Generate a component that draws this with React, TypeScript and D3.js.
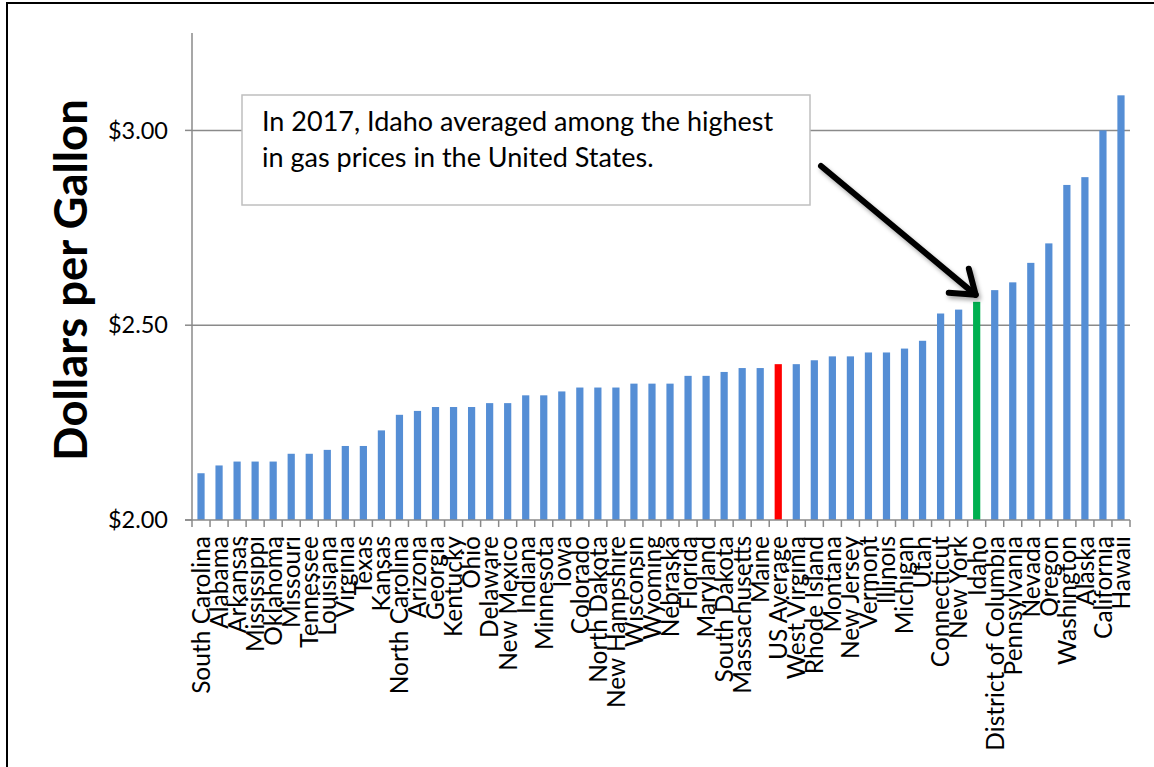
import React from "react";
import * as d3 from "d3";

const states: string[] = [
  "South Carolina", "Alabama", "Arkansas", "Mississippi", "Oklahoma", "Missouri",
  "Tennessee", "Louisiana", "Virginia", "Texas", "Kansas", "North Carolina",
  "Arizona", "Georgia", "Kentucky", "Ohio", "Delaware", "New Mexico", "Indiana",
  "Minnesota", "Iowa", "Colorado", "North Dakota", "New Hampshire", "Wisconsin",
  "Wyoming", "Nebraska", "Florida", "Maryland", "South Dakota", "Massachusetts",
  "Maine", "US Average", "West Virginia", "Rhode Island", "Montana", "New Jersey",
  "Vermont", "Illinois", "Michigan", "Utah", "Connecticut", "New York", "Idaho",
  "District of Columbia", "Pennsylvania", "Nevada", "Oregon", "Washington",
  "Alaska", "California", "Hawaii",
];

const prices: number[] = [
  2.12, 2.14, 2.15, 2.15, 2.15, 2.17, 2.17, 2.18, 2.19, 2.19, 2.23, 2.27,
  2.28, 2.29, 2.29, 2.29, 2.30, 2.30, 2.32, 2.32, 2.33, 2.34, 2.34, 2.34, 2.35,
  2.35, 2.35, 2.37, 2.37, 2.38, 2.39, 2.39, 2.40, 2.40, 2.41, 2.42, 2.42, 2.43,
  2.43, 2.44, 2.46, 2.53, 2.54, 2.56, 2.59, 2.61, 2.66, 2.71, 2.86, 2.88, 3.00, 3.09,
];

const yTicks: number[] = [2.0, 2.5, 3.0];
const yDomain: [number, number] = [2.0, 3.25];
const highlight: Record<string, string> = { "US Average": "#FF0000", Idaho: "#00B050" };
const annotationLines: string[] = [
  "In 2017, Idaho averaged among the highest",
  "in gas prices in the United States.",
];
const yTitle = "Dollars per Gallon";
const arrowTarget = "Idaho";

const W = 1154;
const H = 767;
const plotLeft = 192;
const plotRight = 1130;
const plotTop = 33;
const plotBottom = 520;
const font = "Lato, 'Open Sans', sans-serif";

export default function App() {
  const x = d3
    .scaleBand<string>()
    .domain(states)
    .range([plotLeft, plotRight])
    .paddingInner(0.6)
    .paddingOuter(0.3);
  const y = d3.scaleLinear().domain(yDomain).range([plotBottom, plotTop]);
  const step = x.step();
  const bw = x.bandwidth();
  const fmt = d3.format("$.2f");

  const boundaries = d3.range(states.length + 1).map((k) => plotLeft + k * step);

  const idx = states.indexOf(arrowTarget);
  const tipX = (x(arrowTarget) as number) + bw / 2 - 1;
  const tipY = y(prices[idx]) - 7;
  const startX = 821;
  const startY = 166;
  const ang = Math.atan2(tipY - startY, tipX - startX);
  const barb = 27;
  const b1 = [tipX - barb * Math.cos(ang - 0.62), tipY - barb * Math.sin(ang - 0.62)];
  const b2 = [tipX - barb * Math.cos(ang + 0.62), tipY - barb * Math.sin(ang + 0.62)];

  return (
    <div style={{ position: "fixed", left: 0, top: 0 }}>
      <svg width={W} height={H} style={{ display: "block", background: "#fff" }}>
        <defs>
          <filter id="shadow" x="-20%" y="-20%" width="140%" height="140%">
            <feDropShadow dx="2" dy="3" stdDeviation="2" floodColor="#000" floodOpacity="0.35" />
          </filter>
        </defs>
        {/* outer frame */}
        <line x1={6} x2={W} y1={3} y2={3} stroke="#000" strokeWidth={2} />
        <line x1={7} x2={7} y1={2} y2={H} stroke="#000" strokeWidth={2} />

        {/* gridlines */}
        {yTicks.filter((t) => t > yDomain[0]).map((t) => (
          <line key={"g" + t} x1={plotLeft} x2={plotRight} y1={y(t)} y2={y(t)} stroke="#8a8a8a" strokeWidth={1.5} />
        ))}

        {/* bars */}
        {states.map((s, i) => (
          <rect
            key={s}
            x={x(s)}
            y={y(prices[i])}
            width={bw}
            height={plotBottom - y(prices[i])}
            fill={highlight[s] || "#558ED5"}
          />
        ))}

        {/* y axis */}
        <line x1={plotLeft} x2={plotLeft} y1={plotTop} y2={plotBottom} stroke="#8a8a8a" strokeWidth={1.5} />
        {yTicks.map((t) => (
          <g key={"t" + t}>
            <line x1={plotLeft - 7} x2={plotLeft} y1={y(t)} y2={y(t)} stroke="#8a8a8a" strokeWidth={1.5} />
            <text
              x={168}
              y={y(t)}
              dy="0.35em"
              textAnchor="end"
              fontFamily={font}
              fontSize={23.5}
              fill="#000"
            >
              {fmt(t)}
            </text>
          </g>
        ))}

        {/* x axis */}
        <line x1={plotLeft - 7} x2={plotRight} y1={plotBottom} y2={plotBottom} stroke="#8a8a8a" strokeWidth={1.5} />
        {boundaries.map((bx, k) => (
          <line key={"xt" + k} x1={bx} x2={bx} y1={plotBottom} y2={plotBottom + 7} stroke="#8a8a8a" strokeWidth={1.5} />
        ))}
        {states.map((s) => {
          const cx = (x(s) as number) + bw / 2;
          return (
            <text
              key={"l" + s}
              transform={`translate(${cx},536) rotate(-90)`}
              dy="0.36em"
              textAnchor="end"
              fontFamily={font}
              fontSize={24.5}
              fill="#000"
            >
              {s}
            </text>
          );
        })}

        {/* y title */}
        <text
          transform={`translate(87,280) rotate(-90)`}
          textAnchor="middle"
          fontFamily={font}
          fontWeight={700}
          fontSize={45.5}
          fill="#000"
        >
          {yTitle}
        </text>

        {/* annotation */}
        <rect x={242} y={95} width={568} height={110} fill="#fff" stroke="#bfbfbf" strokeWidth={1.5} />
        {annotationLines.map((l, i) => (
          <text key={"a" + i} x={262} y={131 + i * 36} fontFamily={font} fontSize={27} fill="#000">
            {l}
          </text>
        ))}

        {/* arrow */}
        <g filter="url(#shadow)" stroke="#000" strokeWidth={6} fill="none" strokeLinecap="round" strokeLinejoin="round">
          <line x1={startX} y1={startY} x2={tipX} y2={tipY} />
          <polyline points={`${b1[0]},${b1[1]} ${tipX},${tipY} ${b2[0]},${b2[1]}`} />
        </g>
      </svg>
    </div>
  );
}
